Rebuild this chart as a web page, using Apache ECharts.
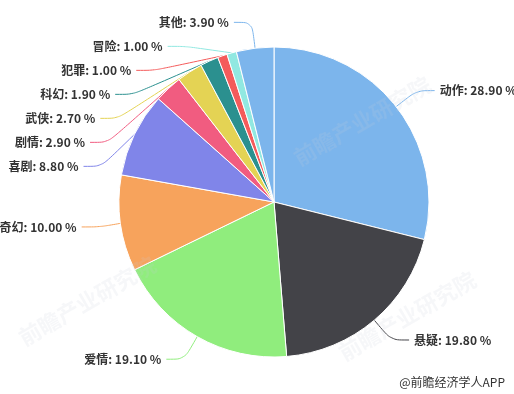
<!DOCTYPE html>
<html><head><meta charset="utf-8">
<script src="https://cdn.jsdelivr.net/npm/echarts@6/dist/echarts.min.js"></script>
<style>html,body{margin:0;padding:0;background:#fff}#c{width:514px;height:394px}</style>
</head><body><div id="c"></div>
<script>
const categories = ['动作','悬疑','爱情','奇幻','喜剧','剧情','武侠','科幻','犯罪','冒险','其他'];
const values = [28.90,19.80,19.10,10.00,8.80,2.90,2.70,1.90,1.00,1.00,3.90];
const colors = ['#7cb5ec','#434348','#90ed7d','#f7a35c','#8085e9','#f15c80','#e4d354','#2b908f','#f45b5b','#91e8e1','#7cb5ec'];
const sourceText = '@前瞻经济学人APP';
const watermarkText = '前瞻产业研究院';

const wm = (x,y)=>({type:'text', x:x, y:y, rotation:Math.PI/6, z:100, silent:true,
  style:{text:watermarkText, fill:'rgba(200,206,216,0.16)', font:'bold 22px "Noto Sans CJK SC", sans-serif'}});

const chart = echarts.init(document.getElementById('c'), null, {renderer:'canvas'});
chart.setOption({
  animation:false,
  color: colors,
  graphic:[
    {type:'text', right:9, bottom:6, style:{text:sourceText, fill:'#333', font:'12px "Noto Sans CJK SC", sans-serif'}},
    wm(290,150), wm(335,345), wm(15,330)
  ],
  series:[{
    type:'pie',
    center:[274,202],
    radius:[0,155],
    startAngle:90,
    clockwise:true,
    avoidLabelOverlap:true,
    itemStyle:{borderColor:'#fff', borderWidth:1},
    data: categories.map((c,i)=>({name:c, value:values[i]})),
    label:{
      show:true, position:'outside', overflow:'none', edgeDistance:2,
      formatter: p => p.name + ': ' + p.value.toFixed(2) + ' %',
      color:'#333', fontSize:12, fontWeight:'bold', lineHeight:22,
      fontFamily:'"Noto Sans CJK SC", sans-serif'
    },
    labelLine:{show:true, length:26, length2:18, smooth:0.3, lineStyle:{width:1}}
  }]
});
</script></body></html>
